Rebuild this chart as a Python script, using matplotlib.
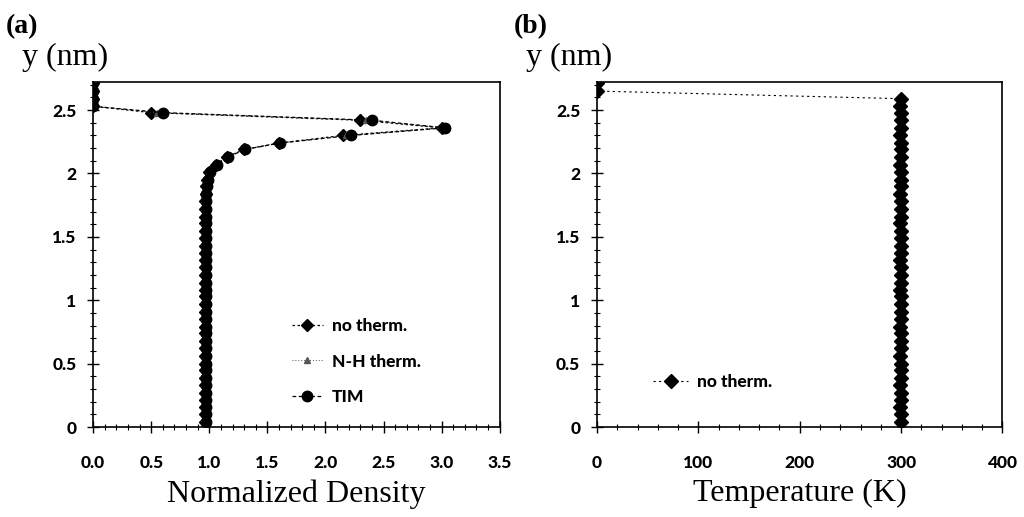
import matplotlib
matplotlib.use('Agg')
import matplotlib.pyplot as plt
from matplotlib.ticker import MultipleLocator, FormatStrFormatter

# y positions of the bins (nm)
y_bins = [0.04, 0.10, 0.16, 0.21, 0.27, 0.33, 0.39, 0.45, 0.50, 0.56,
          0.62, 0.68, 0.74, 0.79, 0.85, 0.91, 0.97, 1.03, 1.08, 1.14,
          1.20, 1.26, 1.32, 1.37, 1.43, 1.49, 1.55, 1.61, 1.66, 1.72,
          1.78, 1.84, 1.90, 1.95, 2.01, 2.07, 2.13, 2.19, 2.24, 2.30,
          2.36, 2.42, 2.48, 2.53, 2.59, 2.65, 2.71]

# normalized density, panel (a)
dens_no_therm = [0.96, 0.96, 0.96, 0.96, 0.96, 0.96, 0.96, 0.96, 0.96, 0.96,
                 0.96, 0.96, 0.96, 0.96, 0.96, 0.96, 0.96, 0.96, 0.96, 0.96,
                 0.96, 0.96, 0.96, 0.96, 0.96, 0.96, 0.96, 0.96, 0.96, 0.96,
                 0.965, 0.97, 0.975, 0.98, 1.00, 1.06, 1.15, 1.30, 1.60, 2.15,
                 3.00, 2.30, 0.50, 0.00, 0.00, 0.00, 0.00]
dens_nh_therm = [0.96, 0.96, 0.96, 0.96, 0.96, 0.96, 0.96, 0.96, 0.96, 0.96,
                 0.96, 0.96, 0.96, 0.96, 0.96, 0.96, 0.96, 0.96, 0.96, 0.96,
                 0.96, 0.96, 0.96, 0.96, 0.96, 0.96, 0.96, 0.96, 0.96, 0.96,
                 0.965, 0.97, 0.975, 0.98, 1.00, 1.06, 1.15, 1.30, 1.60, 2.18,
                 3.01, 2.35, 0.55, 0.00, 0.00, 0.00, 0.00]
dens_tim = [0.97, 0.97, 0.97, 0.97, 0.97, 0.97, 0.97, 0.97, 0.97, 0.97,
            0.97, 0.97, 0.97, 0.97, 0.97, 0.97, 0.97, 0.97, 0.97, 0.97,
            0.97, 0.97, 0.97, 0.97, 0.97, 0.97, 0.97, 0.97, 0.97, 0.97,
            0.97, 0.975, 0.98, 0.985, 1.01, 1.07, 1.16, 1.31, 1.61, 2.22,
            3.03, 2.40, 0.60, 0.00, 0.00, 0.00, 0.00]

# temperature, panel (b)
temp_no_therm = [300, 300, 299, 300, 300, 299, 300, 300, 300, 299,
                 300, 300, 300, 299, 300, 300, 300, 300, 299, 300,
                 300, 300, 299, 300, 300, 300, 300, 299, 300, 300,
                 300, 299, 300, 300, 300, 299, 300, 300, 300, 299,
                 300, 300, 300, 299, 300, 0, 0]

serif = 'Liberation Serif'
tick_family = 'Lato'

fig = plt.figure(figsize=(10.24, 5.17), dpi=100)
ax1 = fig.add_axes([0.091, 0.174, 0.397, 0.667])
ax2 = fig.add_axes([0.583, 0.174, 0.396, 0.667])

ax1.plot(dens_no_therm, y_bins, color='black', ls=(0, (2, 2)), lw=0.9,
         marker='D', ms=6, label='no therm.')
ax1.plot(dens_nh_therm, y_bins, color='#555555', ls=(0, (1, 2)), lw=0.7,
         marker='^', ms=4.5, label='N-H therm.')
ax1.plot(dens_tim, y_bins, color='black', ls=(0, (3, 2)), lw=0.9,
         marker='o', ms=7.5, label='TIM')

ax2.plot(temp_no_therm, y_bins, color='black', ls=(0, (2, 3)), lw=0.8,
         marker='D', ms=7, label='no therm.')

ax1.set_xlim(0, 3.5)
ax2.set_xlim(0, 400)
ax1.xaxis.set_major_locator(MultipleLocator(0.5))
ax1.xaxis.set_minor_locator(MultipleLocator(0.1))
ax1.xaxis.set_major_formatter(FormatStrFormatter('%.1f'))
ax2.xaxis.set_major_locator(MultipleLocator(100))
ax2.xaxis.set_minor_locator(MultipleLocator(20))

for ax in (ax1, ax2):
    ax.set_ylim(0, 2.72)
    ax.yaxis.set_major_locator(MultipleLocator(0.5))
    ax.yaxis.set_minor_locator(MultipleLocator(0.1))
    ax.yaxis.set_major_formatter(FormatStrFormatter('%g'))
    ax.tick_params(which='major', direction='inout', length=8, width=1.0)
    ax.tick_params(which='minor', direction='inout', length=4, width=0.8)
    ax.tick_params(axis='x', pad=16)
    ax.tick_params(axis='y', pad=8)
    for lab in ax.get_xticklabels() + ax.get_yticklabels():
        lab.set_fontfamily(tick_family)
        lab.set_fontweight('black')
        lab.set_fontsize(12.5)
    for s in ax.spines.values():
        s.set_linewidth(1.2)
    ax.text(-0.07, 1.03, 'y (nm)', transform=ax.transAxes, fontsize=23,
            family=serif, ha='center', va='bottom')

ax1.set_xlabel('Normalized Density', fontsize=23, family=serif, labelpad=6)
ax2.set_xlabel('Temperature (K)', fontsize=23, family=serif, labelpad=6)

fig.text(0.006, 0.935, '(a)', fontsize=20, weight='bold', family=serif)
fig.text(0.502, 0.935, '(b)', fontsize=20, weight='bold', family=serif)

leg_font = {'family': tick_family, 'weight': 'black', 'size': 12.5}
ax1.legend(loc='center left', bbox_to_anchor=(0.45, 0.19), frameon=False,
           prop=leg_font, handlelength=1.8, handletextpad=0.5, labelspacing=1.1)
ax2.legend(loc='center left', bbox_to_anchor=(0.1, 0.13), frameon=False,
           prop=leg_font, handlelength=2.0, handletextpad=0.5)

fig.savefig('out.png', dpi=100)
